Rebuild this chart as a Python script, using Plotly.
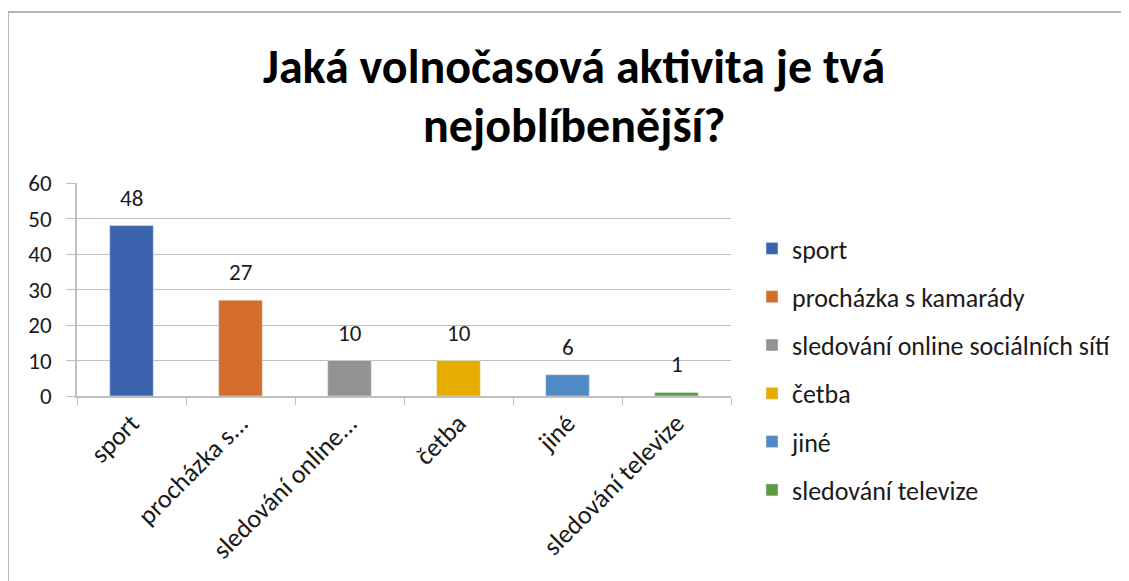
import plotly.graph_objects as go

categories = ["sport", "procházka s kamarády", "sledování online sociálních sítí", "četba", "jiné", "sledování televize"]
tick_labels = ["sport", "procházka s...", "sledování online...", "četba", "jiné", "sledování televize"]
values = [48, 27, 10, 10, 6, 1]
colors = ["#3c64ae", "#d56d2a", "#939393", "#e6ac00", "#4f8ac4", "#5e9b3f"]
title_lines = ["Jaká volnočasová aktivita je tvá", "nejoblíbenější?"]

FONT = "Calibri, Carlito, Lato, sans-serif"

OFF = 8  # browser body margin
W, H = 1129 - OFF, 581 - OFF
L, T = 77 - OFF, 183 - OFF
R = W - (731 - OFF)
B = H - (396 - OFF)
pw = W - L - R
ph = H - T - B


def px_x(x):
    return (x - OFF - L) / pw


def px_y(y):
    return (H - B - (y - OFF)) / ph


fig = go.Figure()
for i, (cat, val, col) in enumerate(zip(categories, values, colors)):
    fig.add_trace(go.Bar(
        x=[cat], y=[val], name=cat, marker_color=col, width=0.4,
        legendgroup=f"g{i}", showlegend=True, hoverinfo="x+y",
    ))

annotations = []
for cat, val in zip(categories, values):
    annotations.append(dict(
        x=cat, y=val, xref="x", yref="y", text=str(val), showarrow=False,
        yanchor="bottom", yshift=12, font=dict(family=FONT, size=23, color="#1a1a1a"),
    ))

title_y_px = [67, 125]
for line, ypx in zip(title_lines, title_y_px):
    annotations.append(dict(
        x=px_x(574), y=px_y(ypx), xref="paper", yref="paper",
        text=f"<b>{line}</b>", showarrow=False, xanchor="center", yanchor="middle",
        font=dict(family=FONT, size=48, color="#000000"),
    ))

fig.update_layout(
    width=W, height=H,
    margin=dict(l=L, r=R, t=T, b=B, pad=0),
    paper_bgcolor="white", plot_bgcolor="white",
    barmode="overlay",
    annotations=annotations,
    showlegend=True,
    legend=dict(
        x=px_x(752), y=px_y(225), xanchor="left", yanchor="top",
        font=dict(family=FONT, size=26, color="#1a1a1a"),
        traceorder="grouped", tracegroupgap=11.5, bgcolor="rgba(0,0,0,0)",
        maxheight=800,
    ),
    font=dict(family=FONT, size=23, color="#1a1a1a"),
    xaxis=dict(
        type="category", categoryorder="array", categoryarray=categories,
        tickvals=categories, ticktext=tick_labels, tickangle=-45,
        tickson="boundaries", ticks="outside", ticklen=7, tickcolor="#bfbfbf",
        showline=True, linecolor="#bfbfbf", linewidth=1.5,
        showgrid=False, tickfont=dict(family=FONT, size=26, color="#1a1a1a"),
        range=[-0.5, 5.5],
    ),
    yaxis=dict(
        range=[0, 60], tickvals=[0, 10, 20, 30, 40, 50, 60],
        ticks="outside", ticklen=9, tickcolor="#bfbfbf",
        showline=True, linecolor="#bfbfbf", linewidth=1.5,
        showgrid=True, gridcolor="#bfbfbf", gridwidth=1.2,
        zeroline=False, tickfont=dict(family=FONT, size=23, color="#1a1a1a"),
        ticklabelstandoff=10,
    ),
    shapes=[dict(
        type="rect", xref="paper", yref="paper",
        x0=px_x(8), x1=px_x(1145),
        y0=px_y(600), y1=px_y(12),
        line=dict(color="#a0a0a0", width=1.5), fillcolor="rgba(0,0,0,0)", layer="below",
    )],
)

fig.write_html("out.html")
